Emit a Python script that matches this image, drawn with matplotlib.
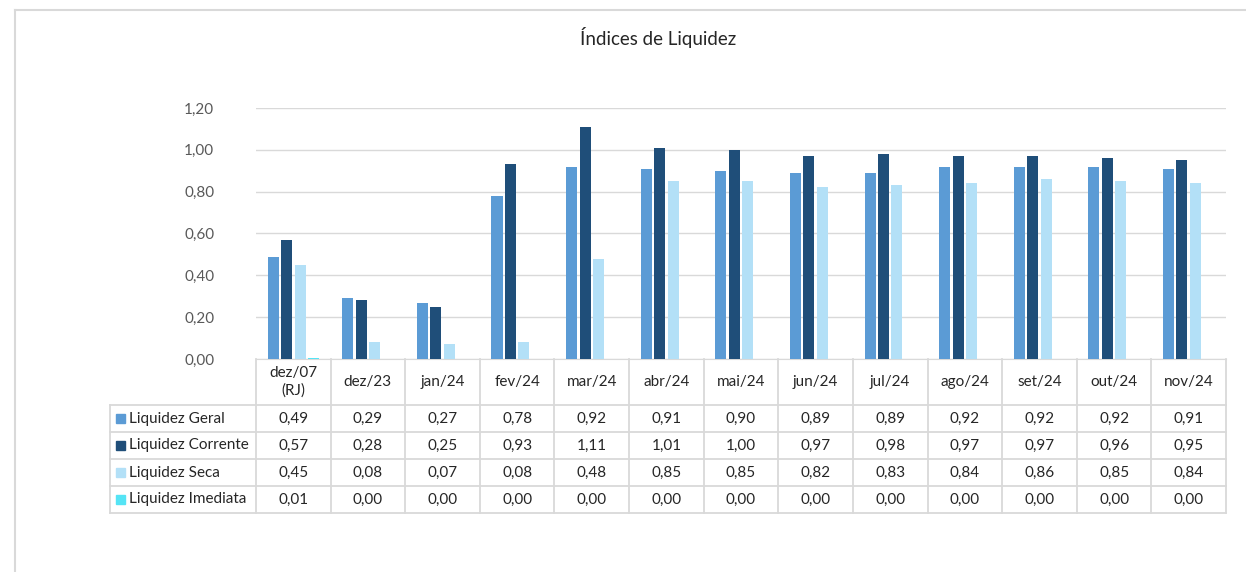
import matplotlib
matplotlib.use("Agg")
import matplotlib.pyplot as plt
from matplotlib.lines import Line2D
from matplotlib.patches import Rectangle
import numpy as np

categories = ["dez/07\n(RJ)", "dez/23", "jan/24", "fev/24", "mar/24", "abr/24", "mai/24",
              "jun/24", "jul/24", "ago/24", "set/24", "out/24", "nov/24"]
series_names = ["Liquidez Geral", "Liquidez Corrente", "Liquidez Seca", "Liquidez Imediata"]
geral = [0.49, 0.29, 0.27, 0.78, 0.92, 0.91, 0.90, 0.89, 0.89, 0.92, 0.92, 0.92, 0.91]
corrente = [0.57, 0.28, 0.25, 0.93, 1.11, 1.01, 1.00, 0.97, 0.98, 0.97, 0.97, 0.96, 0.95]
seca = [0.45, 0.08, 0.07, 0.08, 0.48, 0.85, 0.85, 0.82, 0.83, 0.84, 0.86, 0.85, 0.84]
imediata = [0.006, 0.00, 0.00, 0.00, 0.00, 0.00, 0.00, 0.00, 0.00, 0.00, 0.00, 0.00, 0.00]
y_ticks = [0.0, 0.2, 0.4, 0.6, 0.8, 1.0, 1.2]
title = "Índices de Liquidez"

series = [geral, corrente, seca, imediata]
colors = ["#5B9BD5", "#1F4E79", "#B3E0F7", "#55E4F5"]

plt.rcParams['font.family'] = ['Lato', 'DejaVu Sans']

W, H = 1246, 572
fig = plt.figure(figsize=(W / 100, H / 100), dpi=100)

def fx(px):
    return px / W

def fy(py):
    return 1 - py / H

# outer border (left and top)
fig.add_artist(Line2D([fx(15), fx(15)], [fy(10), fy(572)], color="#D9D9D9", lw=1.5))
fig.add_artist(Line2D([fx(15), fx(1246)], [fy(10), fy(10)], color="#D9D9D9", lw=1.5))

fig.text(fx(658), fy(37), title, ha="center", va="center", fontsize=13.5, color="#262626")

left_px, right_px, top_px, bot_px = 256, 1226, 108, 359
ax = fig.add_axes([fx(left_px), fy(bot_px), fx(right_px - left_px), (bot_px - top_px) / H])
n = len(categories)
x = np.arange(n)
step = 0.18
width = 0.148
for i, (vals, c) in enumerate(zip(series, colors)):
    ax.bar(x + (i - 1.5) * step, vals, width=width, color=c, zorder=3)
ax.set_xlim(-0.5, n - 0.5)
ax.set_ylim(0, 1.2)
ax.set_yticks(y_ticks)
ax.set_yticklabels([f"{v:.2f}".replace(".", ",") for v in y_ticks], fontsize=11, color="#595959")
ax.set_xticks([])
ax.grid(axis="y", color="#D9D9D9", lw=1, zorder=0)
for s in ["top", "right", "left"]:
    ax.spines[s].set_visible(False)
ax.spines["bottom"].set_color("#D9D9D9")
ax.tick_params(axis="y", length=0, pad=30)

# data table
col_w = (right_px - left_px) / n
header_top, header_bot = 359, 405
row_h = 27
row_tops = [header_bot + k * row_h for k in range(5)]
table_left = 110
line_c = "#D9D9D9"
lw = 1.3
for yy in row_tops:
    fig.add_artist(Line2D([fx(table_left), fx(right_px)], [fy(yy), fy(yy)], color=line_c, lw=lw))
for k in range(n + 1):
    xx = left_px + k * col_w
    fig.add_artist(Line2D([fx(xx), fx(xx)], [fy(header_top), fy(row_tops[-1])], color=line_c, lw=lw))
fig.add_artist(Line2D([fx(table_left), fx(table_left)], [fy(header_bot), fy(row_tops[-1])], color=line_c, lw=lw))

for k, cat in enumerate(categories):
    fig.text(fx(left_px + (k + 0.5) * col_w), fy((header_top + header_bot) / 2), cat,
             ha="center", va="center", fontsize=11, color="#262626", linespacing=1.3)

for r, (name, vals, c) in enumerate(zip(series_names, series, colors)):
    yc = row_tops[r] + row_h / 2
    fig.add_artist(Rectangle((fx(116), fy(yc + 4.5)), fx(9), 9 / H, color=c, transform=fig.transFigure))
    fig.text(fx(129), fy(yc), name, ha="left", va="center", fontsize=11, color="#262626")
    for k, v in enumerate(vals):
        fig.text(fx(left_px + (k + 0.5) * col_w), fy(yc), f"{v:.2f}".replace(".", ","),
                 ha="center", va="center", fontsize=11, color="#262626")

fig.savefig("out.png", dpi=100)
